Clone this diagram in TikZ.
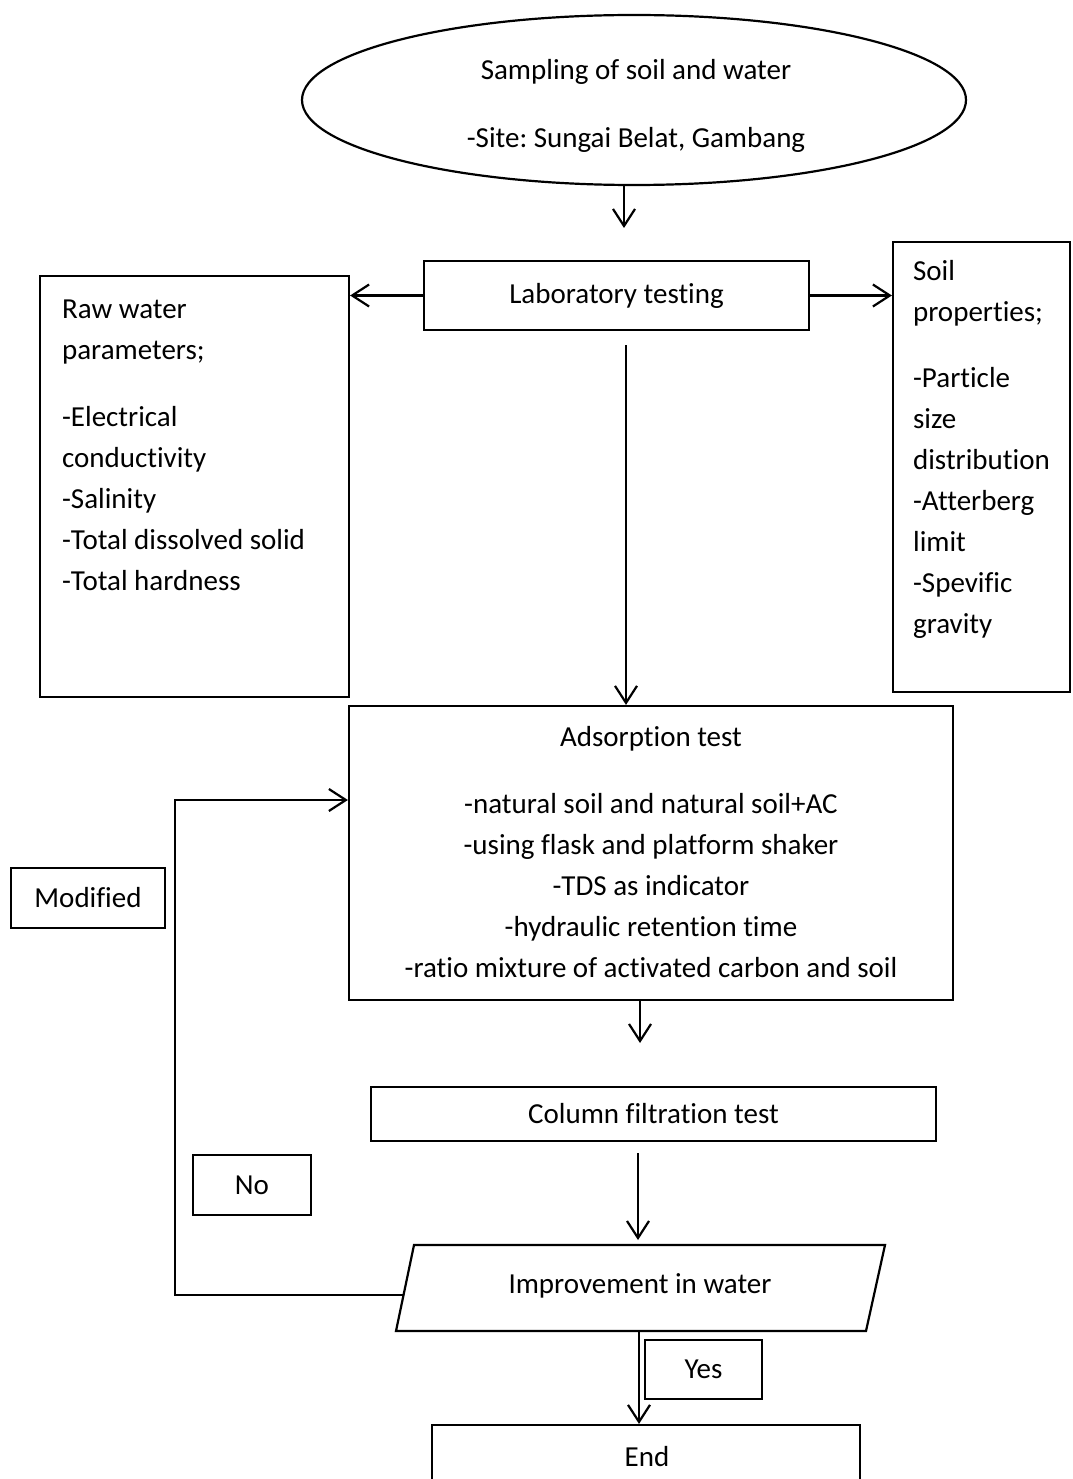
\documentclass[tikz,border=0pt]{standalone}
\usepackage{fontspec}
\setmainfont[Ligatures={NoCommon}]{Carlito}
\frenchspacing
\usetikzlibrary{shapes.geometric,arrows.meta,calc}
\begin{document}
\begin{tikzpicture}[x=1pt,y=-1pt,line width=2.2pt,
  box/.style={draw,rectangle,inner sep=0pt},
  txt/.style={inner sep=0pt,font=\fontsize{29}{41}\selectfont},
  arr/.style={-{Straight Barb[length=17pt,width=22pt]}}]
\useasboundingbox (0,0) rectangle (1072,1479);

% nodes
\node[draw,ellipse,inner sep=0pt,minimum width=664,minimum height=170] (ell) at (634,100) {};
\node[txt,align=center] (elltxt) at (636,106) {Sampling of soil and water\\[27pt]-Site: Sungai Belat, Gambang};
\node[box,txt,minimum width=385,minimum height=69] (lab) at (616.5,295.5) {Laboratory testing};
\node[box,minimum width=309,minimum height=421] (raw) at (194.5,486.5) {};
\node[txt,anchor=north west,align=left] (rawtxt) at (61,299)
  {Raw water\\parameters;\\[26pt]-Electrical\\conductivity\\-Salinity\\-Total dissolved solid\\-Total hardness};
\node[box,minimum width=177,minimum height=450] (soil) at (981.5,467) {};
\node[txt,anchor=north west,align=left] (soiltxt) at (912,259)
  {Soil\\properties;\\[25pt]-Particle\\size\\distribution\\-Atterberg\\limit\\-Spevific\\gravity};
\node[box,minimum width=604,minimum height=294] (ads) at (651,853) {};
\node[txt,align=center] (adstxt) at (651,852)
  {Adsorption test\\[26pt]-natural soil and natural soil+AC\\-using flask and platform shaker\\-TDS as indicator\\-hydraulic retention time\\-ratio mixture of activated carbon and soil};
\node[box,txt,minimum width=565,minimum height=54] (col) at (653.5,1114) {Column filtration test};
\node[box,txt,minimum width=154,minimum height=60] (mod) at (88,898) {Modified};
\node[box,txt,minimum width=118,minimum height=60] (no) at (252,1185) {No};
\node[box,txt,minimum width=117,minimum height=59] (yes) at (703.5,1369.5) {Yes};
\node[box,minimum width=428,minimum height=75] (end) at (646,1462.5) {};
\node[txt] (endtxt) at (647,1457) {End};

% parallelogram decision
\coordinate (p1) at (414,1245);
\coordinate (p2) at (885,1245);
\coordinate (p3) at (866,1331);
\coordinate (p4) at (396,1331);
\draw (p1) -- (p2) -- (p3) -- (p4) -- cycle;
\node[txt] (imp) at (640,1286) {Improvement in water};
\coordinate (pL) at (403.5,1295);
\coordinate (pB) at (639,1331);

% connectors
\coordinate (a1) at (624,228);
\draw[arr] (ell.south -| a1) -- (a1);
\draw[arr] (lab.west) -- (lab.west -| raw.east);
\draw[arr] (lab.east) -- (lab.east -| soil.west);
\coordinate (a2) at (626,345);
\draw[arr] (a2) -- (a2 |- ads.north);
\coordinate (a3) at (640,1043);
\draw[arr] (ads.south -| a3) -- (a3);
\coordinate (a4) at (638,1153);
\coordinate (a5) at (638,1240);
\draw[arr] (a4) -- (a5);
\coordinate (loopA) at (175,1295);
\coordinate (loopB) at (175,800);
\draw[arr] (pL) -- (loopA) -- (loopB) -- (loopB -| ads.west);
\draw[arr] (pB) -- (pB |- end.north);
\end{tikzpicture}
\end{document}
